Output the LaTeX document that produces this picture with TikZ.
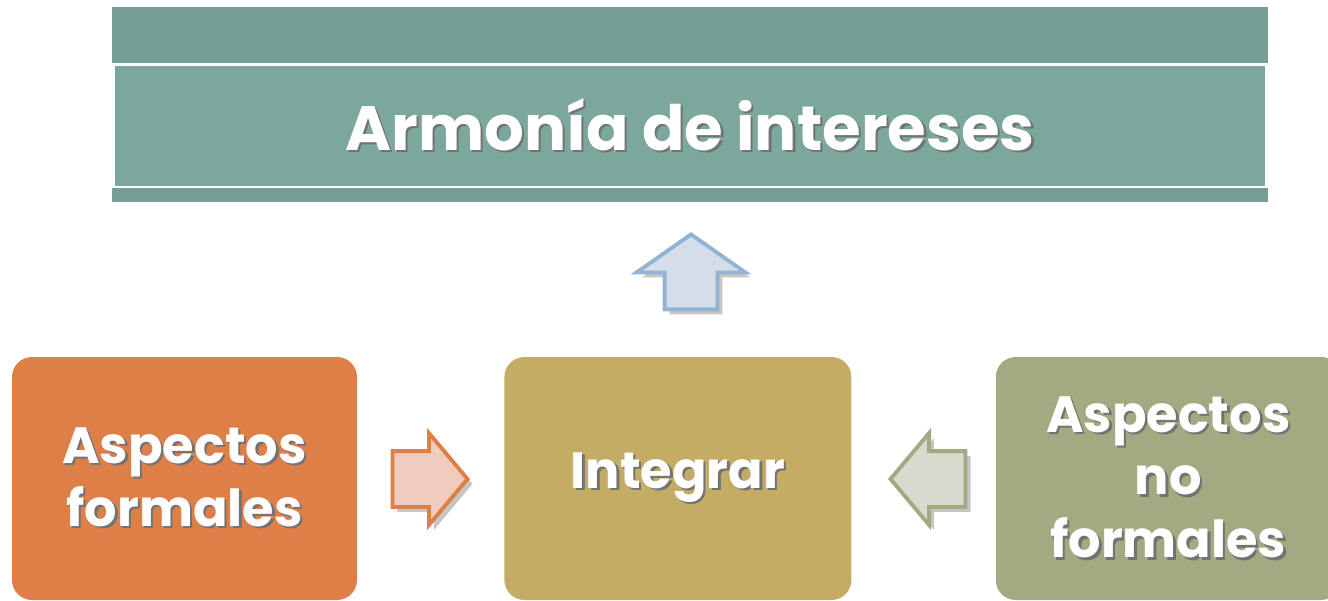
\documentclass[tikz,border=0pt]{standalone}
\usepackage{fontspec}
\setmainfont{Poppins}
\usepackage{tikz}
\usetikzlibrary{shapes.arrows, shadows, positioning}

\definecolor{barDark}{RGB}{117,158,148}
\definecolor{barMid}{RGB}{123,167,156}
\definecolor{formalC}{RGB}{223,127,72}
\definecolor{integC}{RGB}{196,172,101}
\definecolor{noformalC}{RGB}{163,169,128}
\definecolor{upFill}{RGB}{211,222,234}
\definecolor{upLine}{RGB}{148,179,211}
\definecolor{orFill}{RGB}{240,204,191}
\definecolor{olFill}{RGB}{215,218,205}

% white text with a soft dark shadow
\newcommand{\shtxt}[1]{\makebox[0pt][l]{\hspace{0.7pt}\raisebox{-0.7pt}{\color{black!55}#1}}#1}

\begin{document}
\begin{tikzpicture}[
    box/.style={
        rectangle,
        rounded corners=0.2cm,
        minimum width=3.45cm,
        minimum height=2.43cm,
        text=white,
        align=center,
        font=\fontsize{14.5}{17.9}\selectfont\bfseries
    },
    bar/.style={rectangle, fill=barDark, inner sep=0pt, minimum width=11.56cm},
    bigarrow/.style={
        single arrow,
        draw,
        line width=1.1pt,
        inner xsep=0pt,
        minimum height=0.75cm,
        drop shadow={shadow xshift=0.05cm, shadow yshift=-0.05cm, opacity=0.45}
    }
]
\useasboundingbox (0,0) rectangle (13.28,6);
\clip (0,0) rectangle (13.28,6);

% Title band
\node [bar, minimum height=0.56cm] (barTop) at (6.90,5.65) {};
\node [bar, minimum height=0.14cm] (barBot) at (6.90,4.05) {};
\node [rectangle, fill=barMid, inner sep=0pt, minimum width=11.50cm, minimum height=1.20cm,
       text=white, font=\fontsize{17.8}{20}\selectfont\bfseries] (title) at (6.90,4.74) {\shtxt{Armonía de intereses}};

% Boxes
\node [box, fill=formalC] (formal) at (1.845,1.215) {\shtxt{Aspectos}\\\shtxt{formales}};
\node [box, fill=integC, minimum width=3.47cm, right=1.46cm of formal] (integ) {\shtxt{Integrar}};
\node [box, fill=noformalC, right=1.43cm of integ] (noformal) {\shtxt{Aspectos}\\\shtxt{no}\\\shtxt{formales}};

% Arrows
\node [bigarrow, fill=upFill, draw=upLine, shape border rotate=90, inner xsep=0.245cm, inner ysep=0pt,
       single arrow head extend=0.28cm, single arrow tip angle=110, anchor=tip] (upArrow) at (6.91,3.68) {};
\node [bigarrow, fill=orFill, draw=formalC, inner ysep=0.26cm,
       single arrow head extend=0.18cm, single arrow tip angle=100, anchor=tip] (leftArrow) at (4.70,1.21) {};
\node [bigarrow, fill=olFill, draw=noformalC, shape border rotate=180, inner ysep=0.26cm,
       single arrow head extend=0.18cm, single arrow tip angle=100, anchor=tip] (rightArrow) at (8.88,1.21) {};

\end{tikzpicture}
\end{document}
